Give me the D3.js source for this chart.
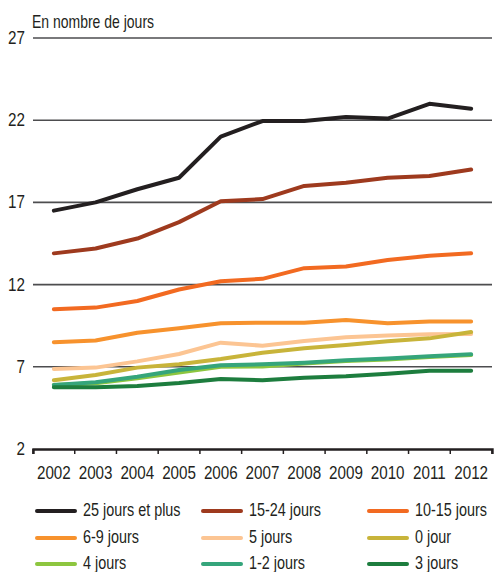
<!DOCTYPE html>
<html>
<head>
<meta charset="utf-8">
<script src="https://cdn.jsdelivr.net/npm/d3@7"></script>
<style>
  body { margin: 0; background: #fff; }
  svg text { font-family: "Liberation Sans", Arial, sans-serif; fill: #231f20; }
</style>
</head>
<body>
<div id="chart"></div>
<script>
var years = ["2002","2003","2004","2005","2006","2007","2008","2009","2010","2011","2012"];
var yTicks = [2, 7, 12, 17, 22, 27];

var seriesNames = ["25 jours et plus","15-24 jours","10-15 jours","6-9 jours","5 jours","0 jour","4 jours","1-2 jours","3 jours"];
var seriesColors = ["#231f20","#9e3a1e","#f26a21","#f7922d","#fcc593","#c8b43a","#8dc63f","#35a57b","#1d7d3e"];

var jours25 = [16.5, 17.0, 17.8, 18.5, 21.0, 21.95, 21.95, 22.2, 22.1, 23.0, 22.7];
var jours15_24 = [13.9, 14.2, 14.8, 15.8, 17.07, 17.2, 18.0, 18.2, 18.5, 18.6, 19.0];
var jours10_15 = [10.5, 10.6, 11.0, 11.7, 12.2, 12.35, 13.0, 13.1, 13.5, 13.75, 13.9];
var jours6_9 = [8.5, 8.6, 9.07, 9.34, 9.65, 9.68, 9.68, 9.85, 9.65, 9.75, 9.75];
var jours5 = [6.87, 6.95, 7.33, 7.78, 8.47, 8.28, 8.57, 8.8, 8.9, 8.98, 9.0];
var jours0 = [6.18, 6.5, 6.95, 7.15, 7.47, 7.86, 8.13, 8.33, 8.55, 8.73, 9.12];
var jours4 = [5.9, 6.0, 6.3, 6.65, 7.0, 7.02, 7.2, 7.35, 7.45, 7.6, 7.72];
var jours1_2 = [5.9, 6.06, 6.4, 6.8, 7.09, 7.15, 7.25, 7.4, 7.5, 7.64, 7.76];
var jours3 = [5.75, 5.75, 5.83, 6.01, 6.26, 6.18, 6.34, 6.42, 6.58, 6.76, 6.76];

var allSeries = [jours25, jours15_24, jours10_15, jours6_9, jours5, jours0, jours4, jours1_2, jours3];

var W = 494, H = 572;
var mLeft = 33, mRight = 492, mTop = 38, mBottom = 449;
var narrow = 0.8;

var svg = d3.select("#chart").append("svg")
    .attr("width", W)
    .attr("height", H);

var x = d3.scaleBand().domain(years).range([mLeft, mRight]);
var y = d3.scaleLinear().domain([2, 27]).range([mBottom, mTop]);

// condensed text: place in a group, squeeze horizontally
function narrowText(sel, px, py, size, anchor, str) {
    var g = sel.append("g")
        .attr("transform", "translate(" + px + "," + py + ") scale(" + narrow + ",1)");
    g.append("text")
        .attr("font-size", size)
        .attr("text-anchor", anchor)
        .text(str);
    return g;
}

// gridlines
svg.selectAll("line.grid")
    .data(yTicks.filter(function(d){ return d > 2; }))
    .enter().append("line")
    .attr("class", "grid")
    .attr("x1", mLeft).attr("x2", mRight)
    .attr("y1", function(d){ return y(d); })
    .attr("y2", function(d){ return y(d); })
    .attr("stroke", "#4d4d4f")
    .attr("stroke-width", 1.6);

// y labels
yTicks.forEach(function(d){
    narrowText(svg, 25, y(d) + 6, 19, "end", d);
});

narrowText(svg, 32, 28, 17.5, "start", "En nombre de jours");

// x axis
var xAxis = d3.axisBottom(x).tickSize(5).tickSizeOuter(5).tickFormat("");
var gx = svg.append("g").attr("transform", "translate(0," + mBottom + ")").call(xAxis);
gx.select(".domain").attr("stroke", "#231f20").attr("stroke-width", 2.4);
gx.selectAll(".tick").remove();

var tickX = years.map(function(d){ return x(d); }).concat([mRight]);
svg.selectAll("line.tick")
    .data(tickX)
    .enter().append("line")
    .attr("class", "tick")
    .attr("x1", function(d){ return d; }).attr("x2", function(d){ return d; })
    .attr("y1", mBottom).attr("y2", mBottom + 5)
    .attr("stroke", "#231f20").attr("stroke-width", 1.5);

years.forEach(function(d){
    narrowText(svg, x(d) + x.bandwidth() / 2, 479, 19, "middle", d);
});

// lines
var line = d3.line()
    .x(function(d, i){ return x(years[i]) + x.bandwidth() / 2; })
    .y(function(d){ return y(d); });

svg.selectAll("path.series")
    .data(allSeries)
    .enter().append("path")
    .attr("class", "series")
    .attr("d", line)
    .attr("fill", "none")
    .attr("stroke", function(d, i){ return seriesColors[i]; })
    .attr("stroke-width", 4)
    .attr("stroke-linejoin", "round")
    .attr("stroke-linecap", "round");

// legend
var colX = [37, 203, 369];
var rowY = [511, 538, 564];
seriesNames.forEach(function(name, i){
    var lx = colX[i % 3], ly = rowY[Math.floor(i / 3)];
    svg.append("line")
        .attr("x1", lx).attr("x2", lx + 38)
        .attr("y1", ly).attr("y2", ly)
        .attr("stroke", seriesColors[i])
        .attr("stroke-width", 4)
        .attr("stroke-linecap", "round");
    narrowText(svg, lx + 46, ly + 5, 18, "start", name);
});
</script>
</body>
</html>
